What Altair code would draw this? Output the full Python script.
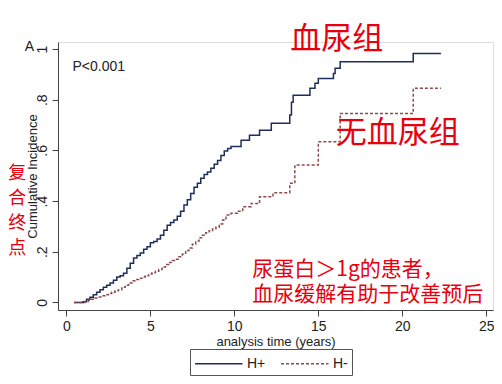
import altair as alt
import pandas as pd

# H+ (hematuria) cumulative incidence
hp_t = [0.45, 0.95, 1.0, 1.2, 1.4, 1.6, 1.8, 2.0, 2.2, 2.4, 2.6, 2.8, 3.0, 3.2, 3.4, 3.6,
        3.8, 4.0, 4.2, 4.4, 4.6, 4.8, 5.0, 5.2, 5.4, 5.6, 5.8, 6.0, 6.2, 6.4, 6.6, 6.8,
        7.0, 7.2, 7.4, 7.6, 7.8, 8.0, 8.2, 8.4, 8.6, 8.8, 9.0, 9.2, 9.4, 9.6, 9.8, 10.4,
        10.9, 11.5, 12.2, 13.3, 13.4, 13.5, 14.5, 14.8, 15.0, 15.9, 16.0, 16.3, 20.65, 22.3]
hp_y = [0.0, 0.0, 0.003, 0.012, 0.02, 0.03, 0.04, 0.05, 0.06, 0.068, 0.077, 0.087, 0.10,
        0.105, 0.115, 0.135, 0.155, 0.175, 0.185, 0.195, 0.21, 0.22, 0.235, 0.24, 0.25,
        0.265, 0.285, 0.305, 0.315, 0.325, 0.34, 0.36, 0.385, 0.405, 0.43, 0.455, 0.47,
        0.49, 0.505, 0.515, 0.53, 0.545, 0.56, 0.58, 0.598, 0.608, 0.615, 0.64, 0.66,
        0.68, 0.707, 0.74, 0.79, 0.818, 0.845, 0.865, 0.884, 0.904, 0.924, 0.95, 0.983,
        0.983]

# H- (no hematuria)
hm_t = [0.45, 0.95, 1.1, 1.3, 1.5, 1.7, 1.9, 2.1, 2.3, 2.5, 2.7, 2.9, 3.1, 3.3, 3.5, 3.7,
        3.9, 4.1, 4.3, 4.5, 4.7, 4.9, 5.1, 5.3, 5.5, 5.7, 5.9, 6.1, 6.3, 6.5, 6.7, 6.9,
        7.1, 7.3, 7.5, 7.7, 7.9, 8.1, 8.3, 8.5, 8.7, 8.9, 9.1, 9.3, 9.5, 9.8, 10.2, 10.5,
        11.0, 11.5, 12.3, 13.3, 13.6, 15.0, 16.3, 20.65, 22.3]
hm_y = [0.0, 0.0, 0.004, 0.008, 0.012, 0.017, 0.021, 0.026, 0.03, 0.035, 0.04, 0.046,
        0.05, 0.06, 0.068, 0.077, 0.085, 0.09, 0.095, 0.10, 0.105, 0.112, 0.117, 0.123,
        0.13, 0.14, 0.15, 0.158, 0.165, 0.17, 0.18, 0.19, 0.205, 0.215, 0.23, 0.242,
        0.255, 0.265, 0.275, 0.283, 0.29, 0.297, 0.31, 0.325, 0.345, 0.352, 0.36, 0.378,
        0.39, 0.417, 0.433, 0.47, 0.542, 0.634, 0.746, 0.845, 0.845]

groups = ["H+", "H-"]
x_ticks = [0, 5, 10, 15, 20, 25]
y_ticks = [0, 0.2, 0.4, 0.6, 0.8, 1]

df = pd.concat([
    pd.DataFrame({"t": hp_t, "ci": hp_y, "group": "H+"}),
    pd.DataFrame({"t": hm_t, "ci": hm_y, "group": "H-"}),
])

FONT = "Liberation Sans"
CJK = "Noto Sans CJK SC"
RED = "#e8000e"

xs = alt.Scale(domain=[-0.5, 25.4], nice=False, zero=False)
ys = alt.Scale(domain=[-0.03, 1.028], nice=False, zero=False)

leg = alt.Legend(title=None, orient="none", legendX=132, legendY=307,
                 direction="horizontal", symbolType="M-1,0H4",
                 symbolSize=361, symbolStrokeWidth=1.4,
                 labelFont=FONT, labelFontSize=14, labelColor="#222",
                 strokeColor="#555", padding=4, columnPadding=12,
                 labelOffset=32)

lines = alt.Chart(df).mark_line(interpolate="step-after", strokeWidth=1.5).encode(
    x=alt.X("t:Q", scale=xs, title="analysis time (years)",
            axis=alt.Axis(values=x_ticks, grid=False, domainColor="#444", tickColor="#444",
                          tickSize=6, labelFontSize=14, labelFont=FONT, labelColor="#222",
                          titleFont=FONT, titleFontSize=13, titleFontWeight="normal",
                          titleColor="#222", labelPadding=3, titlePadding=2)),
    y=alt.Y("ci:Q", scale=ys, title="Cumulative Incidence",
            axis=alt.Axis(values=y_ticks, grid=False, domainColor="#444", tickColor="#444",
                          tickSize=6, labelFontSize=14, labelFont=FONT, labelColor="#222",
                          labelAngle=270, labelAlign="center", labelBaseline="bottom",
                          labelPadding=3,
                          labelExpr="datum.value == 0 ? '0' : datum.value == 1 ? '1' : replace(format(datum.value, '.1f'), '0.', '.')",
                          titleFont=FONT, titleFontSize=13, titleFontWeight="normal",
                          titleColor="#222", titleX=-26, titleY=134, titleAngle=270,
                          titleAlign="center", titleBaseline="middle")),
    color=alt.Color("group:N", scale=alt.Scale(domain=groups, range=["#1f2d5c", "#8e4b4b"]),
                    legend=leg),
    strokeDash=alt.StrokeDash("group:N", scale=alt.Scale(domain=groups, range=[[1, 0], [3, 2]]),
                              legend=leg),
    detail="group:N",
)

ann_top = pd.DataFrame({"t": [-2.2], "ci": [1.008], "txt": ["A"]})
a_mark = alt.Chart(ann_top).mark_text(font=FONT, fontSize=14, color="#222",
                                      align="center", baseline="middle").encode(
    x=alt.X("t:Q", scale=xs), y=alt.Y("ci:Q", scale=ys), text="txt:N")

ann_p = pd.DataFrame({"t": [0.36], "ci": [0.93], "txt": ["P<0.001"]})
p_mark = alt.Chart(ann_p).mark_text(font=FONT, fontSize=14, color="#222",
                                    align="left", baseline="middle").encode(
    x=alt.X("t:Q", scale=xs), y=alt.Y("ci:Q", scale=ys), text="txt:N")

big = pd.DataFrame({"t": [16.1, 19.73], "ci": [1.035, 0.665], "txt": ["血尿组", "无血尿组"]})
big_mark = alt.Chart(big).mark_text(font=CJK, fontSize=31, color=RED,
                                    align="center", baseline="middle").encode(
    x=alt.X("t:Q", scale=xs), y=alt.Y("ci:Q", scale=ys), text="txt:N")

side = pd.DataFrame({"t": [-2.92], "ci": [0.507], "txt": ["复\n合\n终\n点"]})
side_mark = alt.Chart(side).mark_text(font=CJK, fontSize=18, color=RED, lineBreak="\n",
                                      lineHeight=25, align="center", baseline="middle").encode(
    x=alt.X("t:Q", scale=xs), y=alt.Y("ci:Q", scale=ys), text="txt:N")

note = pd.DataFrame({"t": [11.07, 11.07], "ci": [0.128, 0.03],
                     "txt": ["尿蛋白＞1g的患者，", "血尿缓解有助于改善预后"]})
note_mark = alt.Chart(note).mark_text(font=CJK, fontSize=21, color=RED,
                                      align="left", baseline="middle").encode(
    x=alt.X("t:Q", scale=xs), y=alt.Y("ci:Q", scale=ys), text="txt:N")

chart = alt.layer(lines, a_mark, p_mark, big_mark, side_mark, note_mark).properties(
    width=435, height=268, autosize="none",
    padding={"left": 50, "top": 34, "right": 1, "bottom": 66},
).configure_view(stroke=None).configure(background="white")

chart.save("out.html", embed_options={"renderer": "svg", "actions": False})
